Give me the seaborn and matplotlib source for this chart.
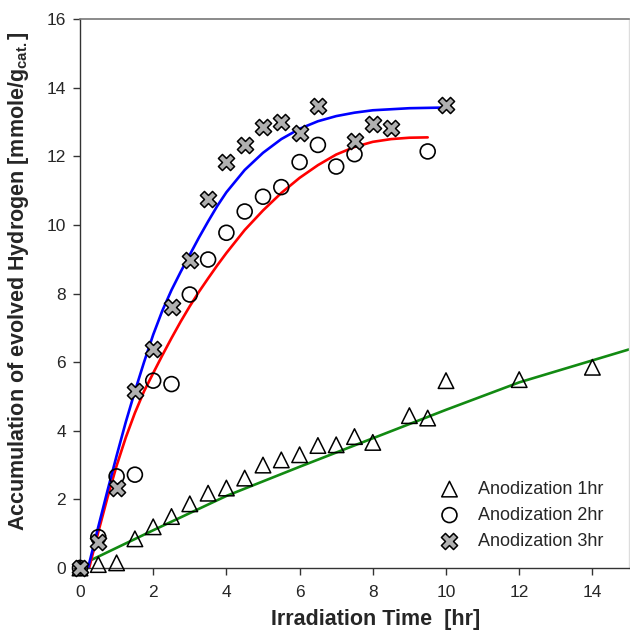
import pandas as pd
import seaborn as sns
import matplotlib.pyplot as plt

t_1hr = [0, 0.5, 1, 1.5, 2, 2.5, 3, 3.5, 4, 4.5, 5, 5.5, 6, 6.5, 7, 7.5, 8, 9, 9.5, 10, 12, 14]
h_1hr = [0, 0.1, 0.15, 0.85, 1.2, 1.5, 1.87, 2.18, 2.33, 2.62, 3.0, 3.15, 3.3, 3.57, 3.59,
         3.83, 3.66, 4.44, 4.37, 5.46, 5.49, 5.85]

t_2hr = [0, 0.5, 1, 1.5, 2, 2.5, 3, 3.5, 4, 4.5, 5, 5.5, 6, 6.5, 7, 7.5, 9.5]
h_2hr = [0, 0.9, 2.67, 2.72, 5.46, 5.36, 7.97, 8.99, 9.77, 10.39, 10.82, 11.1, 11.83,
         12.33, 11.7, 12.06, 12.14]

t_3hr = [0, 0.5, 1, 1.5, 2, 2.5, 3, 3.5, 4, 4.5, 5, 5.5, 6, 6.5, 7.5, 8, 8.5, 10]
h_3hr = [0, 0.77, 2.33, 5.15, 6.38, 7.61, 8.99, 10.76, 11.84, 12.33, 12.86, 13.01, 12.69,
         13.46, 12.45, 12.93, 12.82, 13.49]

# fitted curves
fit1_t = [0.3, 2, 4, 6, 8, 10, 12, 14, 15]
fit1_h = [0.23, 1.1, 2.1, 2.95, 3.78, 4.61, 5.41, 6.05, 6.37]

fit2_t = [0.25, 0.5, 0.75, 1, 1.25, 1.5, 1.75, 2, 2.25, 2.5, 2.75, 3, 3.25, 3.5, 3.75, 4,
          4.5, 5, 5.5, 6, 6.5, 7, 7.5, 8, 8.5, 9, 9.5]
fit2_h = [0, 1.05, 2.05, 2.98, 3.8, 4.52, 5.15, 5.68, 6.2, 6.7, 7.18, 7.63, 8.05, 8.44,
          8.82, 9.18, 9.85, 10.42, 10.93, 11.37, 11.74, 12.05, 12.27, 12.42, 12.5, 12.54, 12.55]

fit3_t = [0.22, 0.5, 0.75, 1, 1.25, 1.5, 1.75, 2, 2.25, 2.5, 2.75, 3, 3.25, 3.5, 3.75, 4,
          4.5, 5, 5.5, 6, 6.5, 7, 7.5, 8, 9, 10]
fit3_h = [0, 1.2, 2.25, 3.27, 4.25, 5.15, 6.0, 6.8, 7.5, 8.1, 8.63, 9.13, 9.63, 10.1,
          10.55, 10.95, 11.6, 12.1, 12.5, 12.8, 13.02, 13.17, 13.27, 13.34, 13.4, 13.42]

sns.set_style("white")
plt.rcParams["font.family"] = ["Liberation Sans", "DejaVu Sans"]
plt.rcParams["mathtext.fontset"] = "custom"
plt.rcParams["mathtext.rm"] = "Liberation Sans:bold"

fig = plt.figure(figsize=(6.3, 6.32), dpi=100)
ax = fig.add_axes([80 / 630, 64 / 632, 549 / 630, 549 / 632])

# curves first, markers on top
sns.lineplot(x=fit1_t, y=fit1_h, color="#128a12", linewidth=1.9, ax=ax, legend=False)
sns.lineplot(x=fit2_t, y=fit2_h, color="#ff0000", linewidth=1.9, ax=ax, legend=False)
sns.lineplot(x=fit3_t, y=fit3_h, color="#0000ff", linewidth=1.9, ax=ax, legend=False)

sns.scatterplot(x=t_1hr, y=h_1hr, marker="^", s=125, facecolors="none",
                edgecolor="black", linewidth=1.1, label="Anodization 1hr",
                ax=ax, clip_on=False, zorder=3)
sns.scatterplot(x=t_2hr, y=h_2hr, marker="o", s=115, facecolors="none",
                edgecolor="black", linewidth=1.2, label="Anodization 2hr",
                ax=ax, clip_on=False, zorder=3)
sns.scatterplot(x=t_3hr, y=h_3hr, marker="X", s=135, color="#b0b0b0",
                edgecolor="black", linewidth=1.1, label="Anodization 3hr",
                ax=ax, clip_on=False, zorder=4)

ax.set_xlim(0, 15)
ax.set_ylim(0, 16)
ax.set_xticks(range(0, 15, 2))
ax.set_yticks(range(0, 17, 2))
ax.tick_params(axis="both", direction="out", length=5, width=1, color="#333333",
               labelsize=12.5, bottom=True, left=True)
ax.tick_params(axis="x", pad=7)
ax.tick_params(axis="y", pad=5)

for side in ["left", "bottom"]:
    ax.spines[side].set_color("#333333")
    ax.spines[side].set_linewidth(1)
ax.spines["top"].set_color("#777777")
ax.spines["top"].set_linewidth(1.2)
ax.spines["right"].set_color("#dddddd")
ax.spines["right"].set_linewidth(1)

ax.set_xlabel("Irradiation Time  [hr]", fontsize=15.5, fontweight="bold")
ax.set_ylabel(r"Accumulation of evolved Hydrogen [mmole/g$_{\mathrm{cat.}}$]",
              fontsize=15.5, fontweight="bold")
ax.xaxis.set_label_coords(0.539, -0.075)
ax.yaxis.set_label_coords(-0.09, 0.523)

ax.legend(loc="lower right", bbox_to_anchor=(0.977, 0.01), frameon=False,
          fontsize=13, handletextpad=0.6, labelspacing=0.5, borderaxespad=0.3)

fig.savefig("out.png", dpi=100)
